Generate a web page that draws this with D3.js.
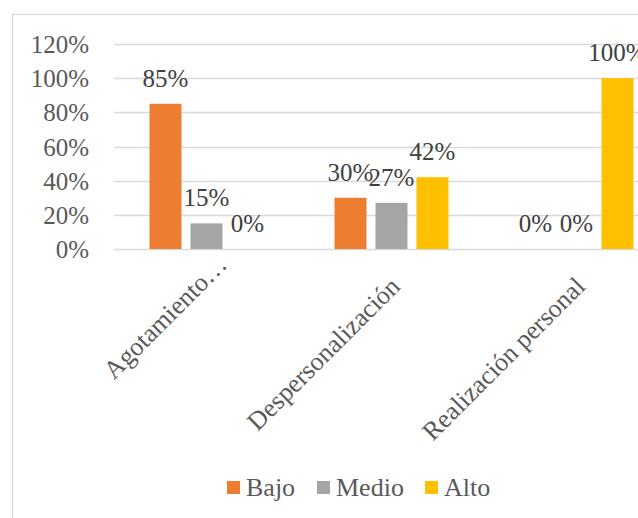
<!DOCTYPE html>
<html>
<head>
<meta charset="utf-8">
<script src="https://cdn.jsdelivr.net/npm/d3@7"></script>
<style>
  html, body { margin: 0; padding: 0; background: #fff; overflow: hidden; }
  text { font-family: "Liberation Serif", Tinos, "Times New Roman" !important; }
</style>
</head>
<body>
<div id="chart"></div>
<script>
const categories = ['Agotamiento…', 'Despersonalización', 'Realización personal']
const series = ['Bajo', 'Medio', 'Alto']
const bajo = [0.85, 0.30, 0]
const medio = [0.15, 0.27, 0]
const alto = [0, 0.42, 1.00]
const yTicks = [0, 0.2, 0.4, 0.6, 0.8, 1.0, 1.2]
const colors = ['#ED7D31', '#A5A5A5', '#FFC000']

const values = [bajo, medio, alto]
const fontFam = '"Liberation Serif", Tinos, "Times New Roman"'

const svg = d3
  .select('#chart')
  .append('svg')
  .attr('width', 638)
  .attr('height', 518)
  .style('font-family', fontFam)

// chart border (cut off at right and bottom like the screenshot)
svg.append('rect')
  .attr('x', 12.5).attr('y', 14.5)
  .attr('width', 800).attr('height', 700)
  .attr('fill', 'none')
  .attr('stroke', '#d9d9d9')
  .attr('stroke-width', 1.3)

const x0 = d3.scaleBand().domain(categories).range([114, 669]).padding(0)
const x1 = d3.scaleBand().domain(series).range([0, x0.bandwidth()])
  .paddingInner(0.22).paddingOuter(0.866)
const y = d3.scaleLinear().domain([0, 1.2]).range([249, 44])

const fmt = d3.format('.0%')

// gridlines
svg.append('g')
  .selectAll('line')
  .data(yTicks)
  .join('line')
  .attr('x1', 114).attr('x2', 669)
  .attr('y1', d => Math.round(y(d)) + 0.5)
  .attr('y2', d => Math.round(y(d)) + 0.5)
  .attr('stroke', '#d9d9d9')
  .attr('stroke-width', 1.3)

// y tick labels
svg.append('g')
  .selectAll('text')
  .data(yTicks)
  .join('text')
  .attr('x', 89)
  .attr('y', d => y(d) + 9)
  .attr('text-anchor', 'end')
  .attr('fill', '#595959')
  .style('font-family', fontFam)
  .style('font-size', '25px')
  .text(d => fmt(d))

// bars
const groups = svg.append('g')
  .selectAll('g')
  .data(series)
  .join('g')
  .attr('fill', (d, i) => colors[i])

groups.selectAll('rect')
  .data((s, si) => categories.map((c, ci) => ({ c, s, v: values[si][ci] })))
  .join('rect')
  .attr('x', d => x0(d.c) + x1(d.s))
  .attr('y', d => y(d.v))
  .attr('width', x1.bandwidth())
  .attr('height', d => y(0) - y(d.v))

// data labels
groups.selectAll('text')
  .data((s, si) => categories.map((c, ci) => ({ c, s, v: values[si][ci] })))
  .join('text')
  .attr('x', d => x0(d.c) + x1(d.s) + x1.bandwidth() / 2)
  .attr('y', d => y(d.v) - 17)
  .attr('text-anchor', 'middle')
  .attr('fill', '#404040')
  .style('font-family', fontFam)
  .style('font-size', '25px')
  .text(d => fmt(d.v))

// category labels, rotated
svg.append('g')
  .selectAll('text')
  .data(categories)
  .join('text')
  .attr('transform', (d, i) => {
    const cx = x0(d) + x0.bandwidth() / 2
    return i === 0
      ? `translate(${cx + 22},${266}) rotate(-45)`
      : `translate(${cx + 10},${288}) rotate(-45)`
  })
  .attr('text-anchor', 'end')
  .attr('fill', '#595959')
  .style('font-family', fontFam)
  .style('font-size', '26px')
  .text(d => d)

// legend
const legendX = [227, 317, 425]
const legend = svg.append('g')
  .selectAll('g')
  .data(series)
  .join('g')
  .attr('transform', (d, i) => `translate(${legendX[i]},481)`)

legend.append('rect')
  .attr('width', 13).attr('height', 13)
  .attr('fill', (d, i) => colors[i])

legend.append('text')
  .attr('x', 19)
  .attr('y', 15)
  .attr('fill', '#595959')
  .style('font-family', fontFam)
  .style('font-size', '26px')
  .text(d => d)
</script>
</body>
</html>
